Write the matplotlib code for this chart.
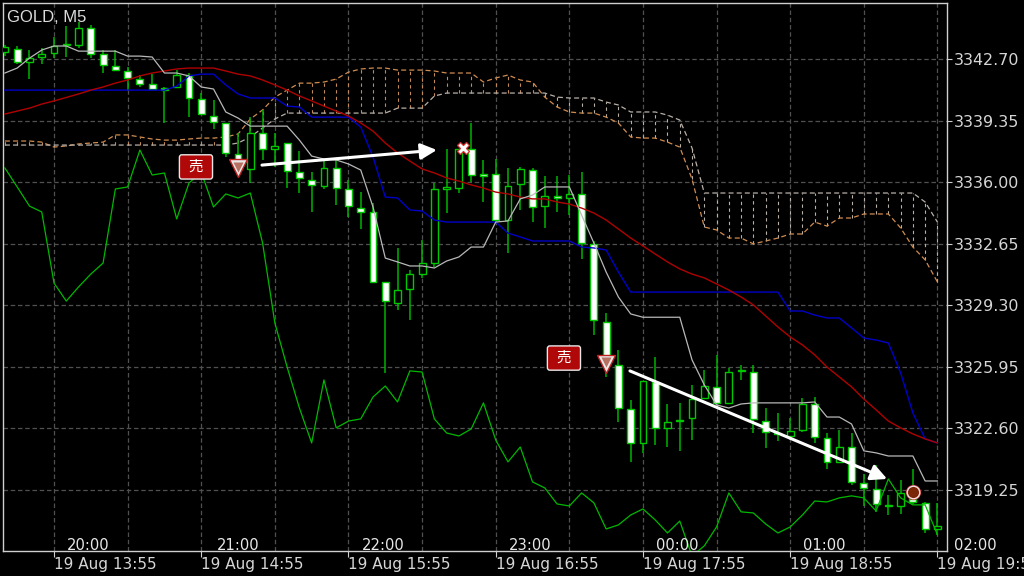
import numpy as np
import matplotlib
matplotlib.use("Agg")
import matplotlib.pyplot as plt
from matplotlib.patches import FancyBboxPatch, FancyArrowPatch

title = "GOLD, M5"
bars = np.arange(-4, 73)

opens = [3343.08,3343.24,3342.54,3342.81,3343.03,3343.46,3343.46,3344.39,3342.97,3342.32,3342.05,3341.61,3341.34,3341.12,3341.18,3341.83,3340.52,3339.60,3339.22,3337.53,3336.72,3338.67,3337.80,3338.13,3336.55,3336.12,3335.79,3336.77,3335.63,3334.59,3334.38,3330.57,3329.43,3330.19,3331.00,3331.60,3335.63,3335.68,3337.80,3336.44,3336.44,3333.94,3335.90,3336.66,3334.70,3335.25,3335.14,3335.36,3332.64,3328.39,3326.05,3323.66,3321.81,3325.13,3322.63,3323.00,3323.17,3324.26,3324.86,3323.99,3325.73,3325.67,3323.00,3322.35,3322.19,3322.52,3323.93,3322.08,3320.78,3321.59,3319.63,3319.31,3318.38,3318.38,3318.76,3318.55,3317.13]
highs = [3343.46,3343.41,3343.19,3343.30,3343.90,3344.49,3344.71,3344.55,3343.19,3343.19,3342.26,3341.83,3341.88,3341.18,3342.10,3341.94,3340.85,3340.47,3339.22,3338.67,3339.54,3339.93,3338.67,3338.13,3337.70,3336.55,3337.26,3337.21,3336.12,3335.46,3334.87,3330.57,3332.42,3331.22,3332.85,3335.95,3337.80,3337.80,3339.22,3337.21,3337.26,3336.77,3336.83,3336.77,3336.33,3336.33,3336.39,3336.55,3332.80,3328.88,3326.87,3324.15,3325.18,3326.49,3323.93,3323.99,3324.97,3325.78,3326.60,3325.89,3326.05,3326.05,3323.71,3323.44,3323.17,3324.26,3324.31,3322.35,3322.52,3322.35,3320.12,3320.61,3318.98,3319.80,3320.40,3318.60,3318.55]
lows = [3342.86,3342.43,3341.61,3342.43,3342.75,3342.81,3343.30,3342.75,3341.94,3342.05,3340.96,3341.18,3341.01,3339.22,3341.12,3339.54,3339.65,3338.89,3337.37,3336.39,3335.95,3337.21,3336.83,3335.68,3335.41,3334.38,3335.63,3334.76,3334.10,3333.45,3330.57,3325.62,3329.05,3328.50,3330.79,3331.38,3334.32,3335.41,3336.01,3334.92,3333.83,3332.15,3334.49,3333.83,3333.51,3334.38,3334.21,3331.82,3327.69,3325.40,3322.95,3320.78,3321.27,3321.70,3321.59,3321.38,3321.97,3324.26,3323.88,3323.99,3325.24,3322.35,3321.54,3321.92,3321.97,3322.41,3321.81,3320.40,3320.78,3319.53,3318.38,3318.06,3317.89,3317.95,3318.49,3316.92,3316.81]
closes = [3343.35,3342.54,3342.75,3342.97,3343.41,3343.52,3344.39,3342.97,3342.37,3342.10,3341.67,3341.34,3341.07,3341.01,3341.83,3340.58,3339.71,3339.27,3337.59,3336.93,3338.67,3337.80,3337.97,3336.61,3336.23,3335.85,3336.77,3335.68,3334.70,3334.38,3330.57,3329.53,3330.13,3331.00,3331.60,3335.63,3335.74,3337.80,3336.39,3336.33,3333.94,3335.79,3336.72,3334.65,3335.25,3335.14,3335.36,3332.69,3328.50,3326.43,3323.71,3321.81,3325.18,3322.63,3322.95,3323.06,3324.20,3324.91,3323.99,3325.67,3325.78,3323.12,3322.41,3322.30,3322.46,3323.93,3322.14,3320.78,3321.59,3319.69,3319.36,3318.49,3318.44,3319.09,3318.60,3317.13,3317.29]

tenkan = [3341.94,3342.21,3342.75,3343.19,3343.41,3343.41,3343.13,3343.13,3343.13,3343.13,3342.86,3342.86,3342.81,3341.94,3341.94,3341.78,3341.18,3341.07,3339.82,3339.49,3339.05,3339.05,3339.05,3339.05,3338.29,3337.42,3337.26,3337.21,3336.99,3336.66,3334.65,3331.87,3331.66,3331.44,3331.44,3331.33,3331.71,3331.93,3332.47,3332.47,3333.83,3333.89,3335.09,3335.30,3335.74,3335.74,3335.74,3334.21,3332.69,3331.11,3329.75,3328.83,3328.65,3328.65,3328.65,3328.65,3326.33,3324.97,3323.88,3323.71,3323.93,3323.99,3323.99,3323.99,3323.99,3323.99,3324.04,3323.22,3323.22,3322.84,3321.38,3321.27,3321.10,3321.10,3321.10,3319.74,3319.74]
kijun = [3341.01]*14 + [3341.23,3341.78,3341.88,3341.88,3341.29,3340.80,3340.58,3340.58,3340.58,3340.14,3340.09,3339.54,3339.54,3339.54,3339.54,3339.00,3337.37,3335.19,3335.14,3334.49,3334.43,3333.94,3333.83,3333.83,3333.83,3333.83,3333.83,3333.23,3333.02,3332.80,3332.80,3332.80,3332.80,3332.47,3332.42,3332.31,3331.11] + [3330.02]*13 + [3328.99,3328.99,3328.77,3328.61,3328.61,3328.07,3327.52,3327.41,3327.25,3325.62,3323.44,3322.03,3321.81]
moving_avg = [3339.71,3339.87,3340.03,3340.25,3340.42,3340.61,3340.80,3341.01,3341.18,3341.39,3341.56,3341.78,3341.94,3342.05,3342.16,3342.21,3342.21,3342.21,3342.05,3341.88,3341.78,3341.56,3341.29,3341.01,3340.69,3340.42,3340.14,3339.87,3339.60,3339.22,3338.78,3338.13,3337.59,3337.15,3336.72,3336.50,3336.23,3336.06,3335.85,3335.68,3335.46,3335.36,3335.19,3335.09,3335.09,3334.92,3334.81,3334.59,3334.32,3333.94,3333.45,3332.96,3332.53,3332.09,3331.66,3331.28,3331.00,3330.79,3330.46,3330.13,3329.75,3329.32,3328.72,3328.12,3327.58,3327.14,3326.60,3325.94,3325.40,3324.86,3324.20,3323.61,3323.00,3322.63,3322.30,3322.03,3321.81]
span_a = [3338.24,3338.24,3338.24,3338.18,3337.91,3337.97,3338.08,3338.13,3338.18,3338.57,3338.57,3338.46,3338.35,3338.29,3338.29,3338.35,3338.40,3338.40,3338.46,3338.62,3339.44,3339.93,3340.63,3341.01,3341.39,3341.39,3341.45,3341.61,3341.99,3342.16,3342.21,3342.21,3342.10,3342.10,3342.10,3342.05,3341.94,3341.94,3341.94,3341.45,3341.67,3341.83,3341.56,3341.45,3340.63,3340.09,3339.82,3339.76,3339.76,3339.54,3339.22,3338.46,3338.40,3338.40,3338.18,3337.91,3336.17,3333.56,3333.40,3332.96,3332.96,3332.64,3332.80,3332.96,3333.18,3333.18,3333.83,3333.61,3334.05,3334.05,3334.27,3334.27,3334.27,3333.51,3332.47,3331.77,3330.57]
span_b = [3338.02]*19 + [3338.13,3338.46,3338.95,3339.44] + [3339.76]*9 + [3340.03,3340.03,3340.03,3340.69] + [3340.85]*9 + [3340.63,3340.58,3340.58,3340.58,3340.36,3340.20,3339.82,3339.82,3339.82,3339.65,3339.38,3337.86] + [3335.41]*18 + [3334.92,3333.83]
chikou = [3336.77,3335.74,3334.70,3334.38,3330.51,3329.53,3330.30,3331.00,3331.60,3335.63,3335.74,3337.75,3336.39,3336.50,3334.00,3335.95,3336.55,3334.65,3335.36,3335.14,3335.41,3332.69,3328.34,3325.94,3323.71,3321.81,3325.24,3322.63,3323.00,3323.12,3324.31,3324.91,3324.04,3325.73,3325.67,3323.12,3322.35,3322.19,3322.57,3323.99,3321.97,3320.78,3321.59,3319.69,3319.36,3318.49,3318.38,3319.09,3318.55,3317.13,3317.35,3317.89,3318.22,3317.62,3316.91,3317.56,3315.66,3316.21,3317.24,3319.09,3318.06,3318.00,3317.40,3316.91,3317.24,3317.89,3318.65,3318.60,3318.82,3318.93,3318.82,3318.11,3319.85,3318.82,3318.44,3318.44,3316.81]

price_ticks = [3319.25, 3322.60, 3325.95, 3329.30, 3332.65, 3336.00, 3339.35, 3342.70]
date_ticks = [0, 12, 24, 36, 48, 60, 72]
date_labels = ["19 Aug 13:55", "19 Aug 14:55", "19 Aug 15:55", "19 Aug 16:55", "19 Aug 17:55", "19 Aug 18:55", "19 Aug 19:55"]
grid_bars = [0, 6, 12, 18, 24, 30, 36, 42, 48, 54, 60, 66, 72]
hour_bars = [2.77, 15.0, 26.8, 38.8, 50.8, 62.75, 75.06]
hour_labels = ["20:00", "21:00", "22:00", "23:00", "00:00", "01:00", "02:00"]

sell_boxes = [(11.57, 3336.83), (41.56, 3326.43)]
sell_triangles = [(15, 3336.77), (45, 3326.11)]
arrows = [((16.95, 3336.93), (31.2, 3337.75)), ((46.94, 3325.73), (67.9, 3319.85))]
close_cross = (33.33, 3337.86)
close_circle = (70, 3319.14)

TEXT = "#d6d6d6"
GRID_DASH = (0, (3.6, 2.2))
fig = plt.figure(figsize=(10.24, 5.76), dpi=100, facecolor="black")
ax = fig.add_axes([3/1024, 25/576, 944/1024, 548/576], facecolor="black")
ax.set_xlim(-4.157, 72.78)
ax.set_ylim(3315.93, 3345.75)

for s in ax.spines.values():
    s.set_color("#cfcfcf")
    s.set_linewidth(1.0)
ax.yaxis.tick_right()
ax.set_yticks(price_ticks)
ax.set_yticklabels([f"{v:.2f}" for v in price_ticks], fontsize=11.4, color=TEXT, family="DejaVu Sans")
ax.set_xticks(date_ticks)
ax.set_xticklabels(date_labels, fontsize=11, color=TEXT, family="DejaVu Sans", ha="left")
ax.tick_params(axis="y", length=3.5, width=0.8, color="#cfcfcf", pad=1.5)
ax.tick_params(axis="x", length=4, width=0.8, color="#cfcfcf", pad=0.5)
for v in grid_bars:
    ax.axvline(v, color="#505050", lw=0.9, ls=GRID_DASH, zorder=1)
for v in price_ticks:
    ax.axhline(v, color="#505050", lw=0.9, ls=GRID_DASH, zorder=1)

# Ichimoku cloud: hatch bars and both edges
for b, a, c in zip(bars, span_a, span_b):
    col = "#c08a5a" if a >= c else "#b8b0a8"
    ax.vlines(b, min(a, c), max(a, c), color=col, lw=0.8, ls=(0, (3, 3)), zorder=2)
ax.plot(bars, span_a, color="#d08c50", lw=0.9, ls=(0, (4, 2.5)), zorder=2.2)
ax.plot(bars, span_b, color="#b8b0a8", lw=0.9, ls=(0, (4, 2.5)), zorder=2.2)

# Candles
ax.vlines(bars, lows, highs, color="#00b400", lw=1.1, zorder=3)
o = np.array(opens)
c = np.array(closes)
up = c >= o
ax.bar(bars, np.abs(c - o), bottom=np.minimum(o, c), width=0.56,
       color=np.where(up, "black", "white"), edgecolor="#00c800", linewidth=1.0, zorder=3.2)

# Indicator lines
ax.plot(bars, chikou, color="#00b800", lw=0.9, zorder=4)
ax.plot(bars, kijun, color="#0000c8", lw=1.0, zorder=4)
ax.plot(bars, moving_avg, color="#b00000", lw=1.0, zorder=4)
ax.plot(bars, tenkan, color="#b8b8b8", lw=0.9, zorder=4)

# Hour labels
for b, t in zip(hour_bars, hour_labels):
    ax.text(b, 3316.25, t, color="#e8e8e8", fontsize=10.6, ha="center", va="center",
            family="DejaVu Sans", clip_on=False, zorder=6)
ax.text(4/944, 1 - 15/548, title, transform=ax.transAxes, color="#dcdcdc", fontsize=12,
        family="Liberation Sans", ha="left", va="center", zorder=6)

# Trade annotations
for (x, y) in sell_boxes:
    box = FancyBboxPatch((x - 1.35, y - 0.66), 2.7, 1.32, boxstyle="round,pad=0,rounding_size=0.2",
                         mutation_aspect=0.68, fc="#b00808", ec="#e8e8e8", lw=1.0, zorder=7)
    ax.add_patch(box)
    ax.text(x, y, "売", color="white", fontsize=10.5, ha="center", va="center",
            family="Noto Sans CJK JP", zorder=8)
for (x, y) in sell_triangles:
    ax.plot(x, y, marker="v", ms=13, mfc="#e8e8e8", mec="#c02020", mew=1.0, zorder=7)
    ax.plot(x, y + 0.08, marker="v", ms=7, mfc="#b87060", mec="none", zorder=7.2)
for (p0, p1) in arrows:
    ax.add_patch(FancyArrowPatch(p0, p1, arrowstyle="-|>,head_length=0.6,head_width=0.3",
                                 mutation_scale=16, color="white", lw=2.2, shrinkA=0, shrinkB=0, zorder=6.5))
ax.plot(*close_cross, marker="X", ms=8, mfc="white", mec="#d03030", mew=0.9, zorder=7)
ax.plot(*close_circle, marker="o", ms=11, mfc="#c03030", mec="none", zorder=7)
ax.plot(*close_circle, marker="o", ms=9, mfc="#7a2408", mec="#f0e0e0", mew=1.0, zorder=7.2)

fig.savefig("out.png", dpi=100, facecolor="black")
